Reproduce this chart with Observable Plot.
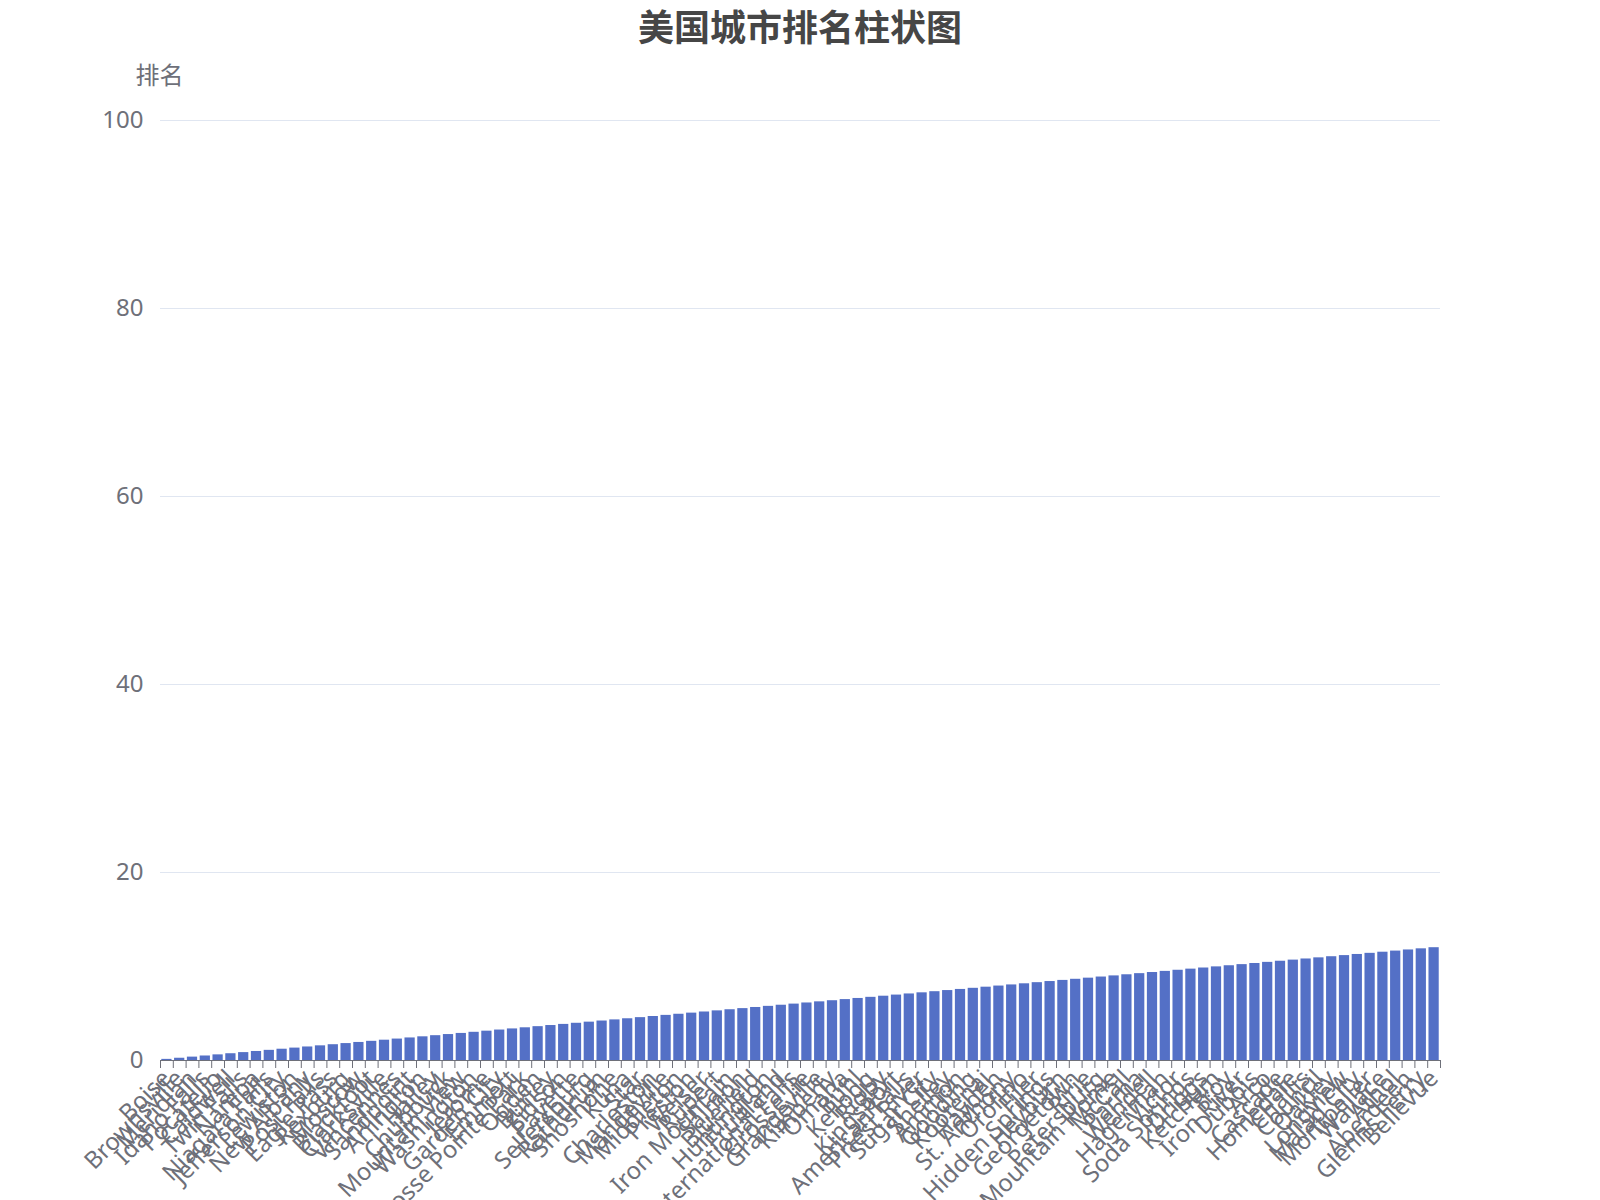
<!DOCTYPE html>
<html>
<head>
<meta charset="utf-8">
<script src="https://cdn.jsdelivr.net/npm/d3@7"></script>
<script src="https://cdn.jsdelivr.net/npm/@observablehq/plot@0.6"></script>
<style>
  body { margin: 0; background: #fff; font-family: "Noto Sans", "Noto Sans CJK SC", sans-serif; }
  #title { width: 1600px; height: 50px; line-height: 50px; text-align: center; font-size: 36px; font-weight: bold; color: #464646; font-family: "Noto Sans CJK SC", "Noto Sans", sans-serif; }
</style>
</head>
<body>
<div id="title">美国城市排名柱状图</div>
<div id="chart"></div>
<script>
const cities = [
  "Boise", "Brownsville", "Meridian", "Idaho Falls", "Pocatello", "Caldwell", "Twin Falls", "Nampa", "Niagara Falls", "Jefferson City",
  "Lewiston", "New Albany", "Post Falls", "Eagle Pass", "Rexburg", "Moscow", "Blackfoot", "Clarksville", "Vincennes", "Sandpoint",
  "Arlington", "Hailey", "Chubbuck", "Mountain View", "Washington", "Jerome", "Garden City", "Emmett", "Grosse Pointe Park", "Ogden",
  "Burley", "Eidson", "Payette", "Sellersburg", "Rathdrum", "Shoshone", "Kuna", "Star", "Charleston", "Mandeville",
  "Middleton", "Preston", "Weiser", "Rupert", "Iron Mountain", "Salmon", "Bluefield", "Huntington", "Fruitland", "International Falls",
  "Grosse Ile", "Grangeville", "Kimberly", "Omaha", "Buhl", "Kellogg", "Rigby", "Kingsport", "American Falls", "Priest River",
  "Sugar City", "Shelley", "Ammon", "Gooding", "Kootenai", "Hayden", "St. Anthony", "Orofino", "Filer", "Hidden Springs",
  "Heyburn", "Georgetown", "Ririe", "Petersburg", "Mountain Home", "McCall", "Parma", "Wendell", "Hagerman", "Victor",
  "Soda Springs", "Driggs", "Ketchum", "Troy", "Iron River", "Dubois", "Arco", "Cascade", "Homedale", "Challis",
  "Council", "Oakley", "Longview", "Malad City", "Montpelier", "Wallace", "Athol", "Aberdeen", "Glenns Ferry", "Bellevue"
];
const ranks = [
  0.12, 0.24, 0.36, 0.48, 0.6, 0.72, 0.84, 0.96, 1.08, 1.2,
  1.32, 1.44, 1.56, 1.68, 1.8, 1.92, 2.04, 2.16, 2.28, 2.4,
  2.52, 2.64, 2.76, 2.88, 3.0, 3.12, 3.24, 3.36, 3.48, 3.6,
  3.72, 3.84, 3.96, 4.08, 4.2, 4.32, 4.44, 4.56, 4.68, 4.8,
  4.92, 5.04, 5.16, 5.28, 5.4, 5.52, 5.64, 5.76, 5.88, 6.0,
  6.12, 6.24, 6.36, 6.48, 6.6, 6.72, 6.84, 6.96, 7.08, 7.2,
  7.32, 7.44, 7.56, 7.68, 7.8, 7.92, 8.04, 8.16, 8.28, 8.4,
  8.52, 8.64, 8.76, 8.88, 9.0, 9.12, 9.24, 9.36, 9.48, 9.6,
  9.72, 9.84, 9.96, 10.08, 10.2, 10.32, 10.44, 10.56, 10.68, 10.8,
  10.92, 11.04, 11.16, 11.28, 11.4, 11.52, 11.64, 11.76, 11.88, 12.0
];
const yTicks = [0, 20, 40, 60, 80, 100];
const yName = "排名";

const data = cities.map((c, i) => ({ city: c, rank: ranks[i] }));

const W = 1600, H = 1150, mL = 160, mR = 160, mT = 70, mB = 140;
const step = (W - mL - mR) / cities.length;
const axisColor = "#6E7079";
const font = "'Noto Sans', 'Noto Sans CJK SC', sans-serif";

const chart = Plot.plot({
  width: W,
  height: H,
  marginLeft: mL,
  marginRight: mR,
  marginTop: mT,
  marginBottom: mB,
  style: { fontFamily: font, fontSize: "24px", color: axisColor, background: "#fff", overflow: "visible" },
  x: { type: "band", domain: cities, paddingInner: 0.2, paddingOuter: 0.1 },
  y: { domain: [0, 100] },
  marks: [
    Plot.gridY(yTicks, { stroke: "#E0E6F1", strokeOpacity: 1, strokeWidth: 1 }),
    Plot.axisY(yTicks, { tickSize: 0, tickPadding: 17, fontSize: 24, fill: axisColor, label: null }),
    Plot.axisX({ tickSize: 0, tickPadding: 14, tickRotate: -45, fontSize: 24, fill: axisColor, label: null }),
    Plot.barY(data, { x: "city", y: "rank", fill: "#5470C6" }),
    Plot.ruleY([0], { stroke: axisColor, strokeWidth: 1 }),
    Plot.ruleX(cities, { x: d => d, y1: 0, y2: 0, insetBottom: -8, dx: -step / 2, stroke: axisColor }),
    Plot.ruleX([cities[cities.length - 1]], { x: d => d, y1: 0, y2: 0, insetBottom: -8, dx: step / 2, stroke: axisColor }),
    Plot.text([yName], { frameAnchor: "top-left", text: d => d, dx: -1, dy: -44, textAnchor: "middle", lineAnchor: "middle", fontSize: 24, fill: axisColor })
  ]
});
document.getElementById("chart").appendChild(chart);
</script>
</body>
</html>
